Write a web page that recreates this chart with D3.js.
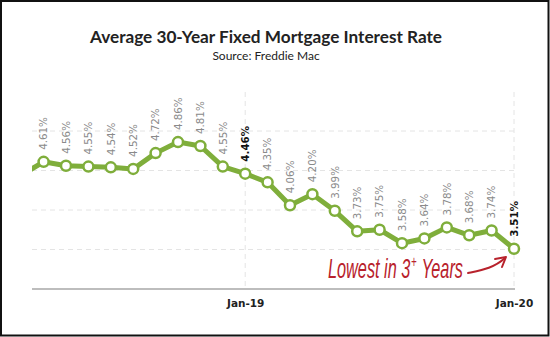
<!DOCTYPE html>
<html><head><meta charset="utf-8">
<script src="https://cdn.jsdelivr.net/npm/d3@7"></script>
<style>
html,body{margin:0;padding:0;background:#fff;}
svg{display:block;}
</style></head>
<body>
<svg id="chart" width="550" height="337"></svg>
<script>
const months = ["Mar-18","Apr-18","May-18","Jun-18","Jul-18","Aug-18","Sep-18","Oct-18","Nov-18","Dec-18","Jan-19","Feb-19","Mar-19","Apr-19","May-19","Jun-19","Jul-19","Aug-19","Sep-19","Oct-19","Nov-19","Dec-19","Jan-20"];
const rates = [4.44,4.61,4.56,4.55,4.54,4.52,4.72,4.86,4.81,4.55,4.46,4.35,4.06,4.20,3.99,3.73,3.75,3.58,3.64,3.78,3.68,3.74,3.51];
const showLabel = [false,true,true,true,true,true,true,true,true,true,true,true,true,true,true,true,true,true,true,true,true,true,true];
const boldLabel = ["Jan-19","Jan-20"];
const tickLabels = ["Jan-19","Jan-20"];
const gridValues = [3.5,4.0,4.5,5.0];
const titleText = "Average 30-Year Fixed Mortgage Interest Rate";
const subtitleText = "Source: Freddie Mac";
const annotationParts = ["Lowest in 3", "+", "Years"];

(function(){
const svg = d3.select("#chart");
const W = 550, H = 337;
const pLeft = 32, pRight = 514, pTop = 92, pBottom = 289;

svg.append("rect").attr("x",1).attr("y",1).attr("width",W-2.5).attr("height",H-2.5)
  .attr("fill","#fff").attr("stroke","#111").attr("stroke-width",2);

svg.append("text").attr("x",266).attr("y",43).attr("text-anchor","middle")
  .attr("font-family","Lato, 'Open Sans', sans-serif").attr("font-weight","bold")
  .attr("font-size",17.2).attr("fill","#222").text(titleText);
svg.append("text").attr("x",266).attr("y",60).attr("text-anchor","middle")
  .attr("font-family","Lato, 'Open Sans', sans-serif")
  .attr("font-size",12).attr("fill","#222").text(subtitleText);

const x = d3.scalePoint().domain(months).range([21.2, 514]);
const y = d3.scaleLinear().domain([3.0, 5.5]).range([pBottom, pBottom - 2.5*79]);

svg.append("g").selectAll("line").data(gridValues).join("line")
  .attr("x1",pLeft).attr("x2",pRight).attr("y1",d=>y(d)).attr("y2",d=>y(d))
  .attr("stroke","#e4e4e4").attr("stroke-width",1).attr("stroke-dasharray","5,4");
svg.append("g").selectAll("line").data(tickLabels).join("line")
  .attr("x1",d=>x(d)).attr("x2",d=>x(d)).attr("y1",pTop).attr("y2",pBottom)
  .attr("stroke","#e4e4e4").attr("stroke-width",1).attr("stroke-dasharray","5,4");

const xAxis = d3.axisBottom(x).tickValues(tickLabels).tickSize(0).tickPadding(11);
const ax = svg.append("g").attr("transform",`translate(0,${pBottom})`).call(xAxis);
ax.select(".domain").remove();
ax.selectAll("text").attr("font-family","'DejaVu Sans', Verdana, sans-serif")
  .attr("font-weight","bold").attr("font-size",10.5).attr("fill","#222");
svg.append("line").attr("x1",pLeft).attr("x2",pRight+1).attr("y1",pBottom).attr("y2",pBottom)
  .attr("stroke","#bdbdbd").attr("stroke-width",2);

svg.append("defs").append("clipPath").attr("id","clip")
  .append("rect").attr("x",pLeft).attr("y",0).attr("width",W-pLeft).attr("height",H);

const data = months.map((m,i)=>({m, v:rates[i], show:showLabel[i]}));
const line = d3.line().x(d=>x(d.m)).y(d=>y(d.v));
svg.append("path").datum(data).attr("d",line).attr("clip-path","url(#clip)")
  .attr("fill","none").attr("stroke","#7fae3b").attr("stroke-width",5).attr("stroke-linejoin","round");

const vis = data.filter(d=>d.show);
svg.append("g").selectAll("circle").data(vis).join("circle")
  .attr("cx",d=>x(d.m)).attr("cy",d=>y(d.v)).attr("r",5)
  .attr("fill","#fff").attr("stroke","#7fae3b").attr("stroke-width",2.5);

svg.append("g").selectAll("text").data(vis).join("text")
  .attr("transform",d=>`translate(${x(d.m)+3.8},${y(d.v)-12}) rotate(-90)`)
  .attr("font-family","'DejaVu Sans', Verdana, sans-serif")
  .attr("font-size",10.3)
  .attr("font-weight",d=>boldLabel.includes(d.m)?"bold":"normal")
  .attr("fill",d=>boldLabel.includes(d.m)?"#111":"#8a8a8a")
  .text(d=>d.v.toFixed(2)+"%");

const red = "#b8222c";
const g = svg.append("g");
const fam = "'Liberation Sans',sans-serif";
const t1 = g.append("text").attr("x",0).attr("y",0).attr("font-family",fam)
  .attr("font-style","italic").attr("font-size",27).attr("fill",red).text(annotationParts[0]);
let w1 = t1.node().getComputedTextLength();
const t2 = g.append("text").attr("x",w1+1).attr("y",-11).attr("font-family",fam)
  .attr("font-style","italic").attr("font-size",16).attr("fill",red).text(annotationParts[1]);
let w2 = t2.node().getComputedTextLength();
const t3 = g.append("text").attr("x",w1+w2+9).attr("y",0).attr("font-family",fam)
  .attr("font-style","italic").attr("font-size",27).attr("fill",red).text(annotationParts[2]);
let total = w1+w2+9+t3.node().getComputedTextLength();
const sx = 135/total;
g.attr("transform",`translate(328,278) scale(${sx},1)`);

svg.append("path").attr("d","M468,273 C482,270 494,268 505,258")
  .attr("fill","none").attr("stroke",red).attr("stroke-width",2).attr("stroke-linecap","round");
svg.append("path").attr("d","M495,259 L506,257 L502,267")
  .attr("fill","none").attr("stroke",red).attr("stroke-width",2).attr("stroke-linecap","round").attr("stroke-linejoin","round");
})();
</script>
</body></html>
